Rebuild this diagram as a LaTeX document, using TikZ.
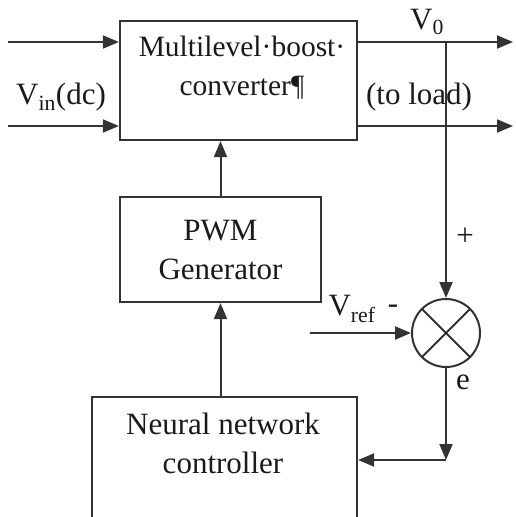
\documentclass[tikz,border=0pt]{standalone}
\usepackage{fontspec}
\setmainfont{Liberation Serif}
\usetikzlibrary{arrows.meta, positioning, calc}
\definecolor{lineCol}{HTML}{333333}
\definecolor{textdark}{HTML}{1a1a1a}

\begin{document}
\begin{tikzpicture}[
    x=1pt, y=-1pt,
    >={Triangle[length=16pt, width=13pt]},
    font=\fontsize{31}{39}\selectfont,
    blockbox/.style={draw=lineCol, line width=2.2pt, text=textdark, align=center, inner sep=0pt},
    wire/.style={draw=lineCol, line width=2pt},
    sigtext/.style={text=textdark, inner sep=0pt}
]

% --- frame of the picture ---
\useasboundingbox (0,0) rectangle (515,517);
\clip (0,0) rectangle (515,517);

% --- 1. BLOCKS ---
\node[blockbox, minimum width=237pt, minimum height=119pt] (conv) at (238.5, 80.5) {};
\node[sigtext, align=center, font=\fontsize{29.5}{39}\selectfont] (convlbl) at (242, 68) {Multilevel·boost·\\converter¶};

\node[blockbox, minimum width=201pt, minimum height=105pt] (pwm) at (220.5, 249.5) {PWM\\Generator};

\node[blockbox, minimum width=265pt, minimum height=143pt] (nnc) at (224.5, 468.5) {};
\node[sigtext, align=center] (nnclbl) at (223, 443) {Neural network\\controller};

\node[circle, draw=lineCol, line width=2pt, minimum size=68pt, inner sep=0pt] (sum) at (446, 333) {};
\draw[wire] (sum.north east) -- (sum.south west);
\draw[wire] (sum.north west) -- (sum.south east);

% --- 2. FREE ENDS ---
\coordinate (in1) at (8, 42);
\coordinate (in2) at (8, 126);
\coordinate (out1) at (513, 42);
\coordinate (out2) at (513, 126);
\coordinate (tap) at (446, 42);
\coordinate (vrefin) at (310, 333);
\coordinate (corner) at (446, 460);

% --- 3. CONNECTORS ---
\draw[wire, ->] (in1) -- (in1 -| conv.west);
\draw[wire, ->] (in2) -- (in2 -| conv.west);
\draw[wire, ->] (out1 -| conv.east) -- (out1);
\draw[wire, ->] (out2 -| conv.east) -- (out2);
\draw[wire, ->] (tap) -- (sum.north);
\draw[wire, ->] (vrefin) -- (sum.west);
\draw[wire, ->] (pwm.north) -- (pwm.north |- conv.south);
\draw[wire, ->] (pwm.south |- nnc.north) -- (pwm.south);
\draw[wire, ->] (sum.south) -- (corner);
\draw[wire, ->] (corner) -- (corner -| nnc.east);

% --- 4. SIGNAL LABELS ---
\node[sigtext] (vin) at (61, 97) {V\textsubscript{in}(dc)};
\node[sigtext] (load) at (419, 97) {(to load)};
\node[sigtext] (vout) at (427, 22) {V\textsubscript{0}};
\node[sigtext] (vref) at (352, 309) {V\textsubscript{ref}};
\node[sigtext] (minus) at (393, 309) {-};
\node[sigtext] (plus) at (465, 237) {+};
\node[sigtext] (err) at (463, 382) {e};

\end{tikzpicture}
\end{document}
